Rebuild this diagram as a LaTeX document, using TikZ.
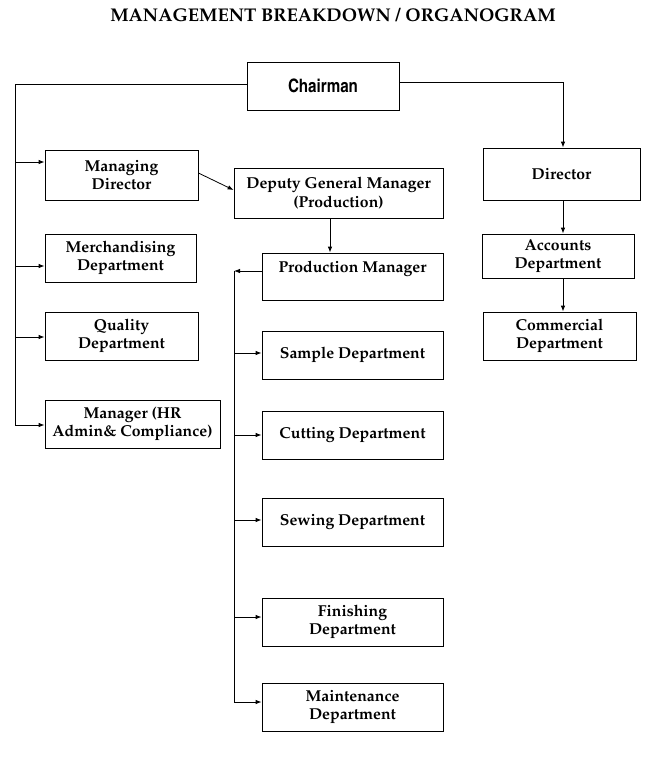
\documentclass[tikz,border=0pt]{standalone}
\usepackage[T1]{fontenc}
\usepackage{mathpazo}
\usetikzlibrary{arrows.meta}

\begin{document}
\begin{tikzpicture}[x=1pt, y=-1pt, line width=0.8pt,
    box/.style={draw, minimum height=48pt, align=center, inner sep=1pt,
                font=\fontsize{15.8}{18.5}\selectfont\bfseries},
    arr/.style={-{Latex[length=6pt,width=4.5pt]}}]

\useasboundingbox (0,0) rectangle (661,764);

% titre
\node[font=\fontsize{18.4}{20}\selectfont\bfseries] (title) at (333,15) {MANAGEMENT BREAKDOWN / ORGANOGRAM};

% direction
\node[box, minimum width=152pt, font=\fontfamily{phv}\fontseries{bc}\fontsize{18.5}{20}\selectfont] (chair) at (323,86) {Chairman};

% colonne gauche
\node[box, minimum width=153pt, minimum height=50pt] (md) at (121.5,175) {Managing\\Director};
\node[box, minimum width=151pt] (merch) at (120.5,258) {Merchandising\\Department};
\node[box, minimum width=153pt] (qual) at (121.5,336) {Quality\\Department};
\node[box, minimum width=175pt] (hr) at (132.5,424) {Manager (HR\\Admin\& Compliance)};

% production
\node[box, minimum width=209pt, minimum height=50pt] (dgm) at (338.5,193) {Deputy General Manager\\(Production)};
\node[box, minimum width=181pt, minimum height=47pt] (pm) at (352.5,276.5) {Production Manager\\\mbox{}};
\node[box, minimum width=181pt] (samp) at (352.5,355) {Sample Department};
\node[box, minimum width=181pt] (cut) at (352.5,435) {Cutting Department};
\node[box, minimum width=181pt] (sew) at (352.5,522) {Sewing Department};
\node[box, minimum width=181pt] (fin) at (352.5,622) {Finishing\\Department};
\node[box, minimum width=181pt] (mnt) at (352.5,707) {Maintenance\\Department};

% colonne droite
\node[box, minimum width=157pt, minimum height=52pt] (dir) at (561.5,174) {Director};
\node[box, minimum width=152pt, minimum height=44pt] (acc) at (558,256) {Accounts\\Department};
\node[box, minimum width=153pt] (com) at (559.5,336) {Commercial\\Department};

% liaisons gauche
\coordinate (ltop) at (15,84);
\coordinate (lbot) at (15,425);
\draw (chair.west |- ltop) -- (ltop) -- (lbot);
\draw[arr] (lbot) -- (lbot -| hr.west);
\foreach \n/\y in {md/162, merch/266, qual/337}
    \draw[arr] (15,\y) -- (\n.west |- 0,\y);

% liaisons droite
\coordinate (rtop) at (563,82);
\draw[arr] (chair.east |- rtop) -- (rtop) -- (dir.north -| rtop);
\draw[arr] (dir.south -| rtop) -- (acc.north -| rtop);
\draw[arr] (acc.south -| rtop) -- (com.north -| rtop);

% liaisons production
\draw[arr] (md.east |- 0,173) -- (dgm.west |- 0,190);
\draw[arr] (dgm.south -| 330,0) -- (pm.north -| 330,0);
\coordinate (ptop) at (234,271);
\coordinate (pbot) at (234,702);
\draw[arr] (pm.west |- ptop) -- (ptop);
\draw (ptop) -- (pbot);
\draw[arr] (pbot) -- (pbot -| mnt.west);
\foreach \n/\y in {samp/353, cut/435, sew/520, fin/617}
    \draw[arr] (234,\y) -- (\n.west |- 0,\y);

\end{tikzpicture}
\end{document}
